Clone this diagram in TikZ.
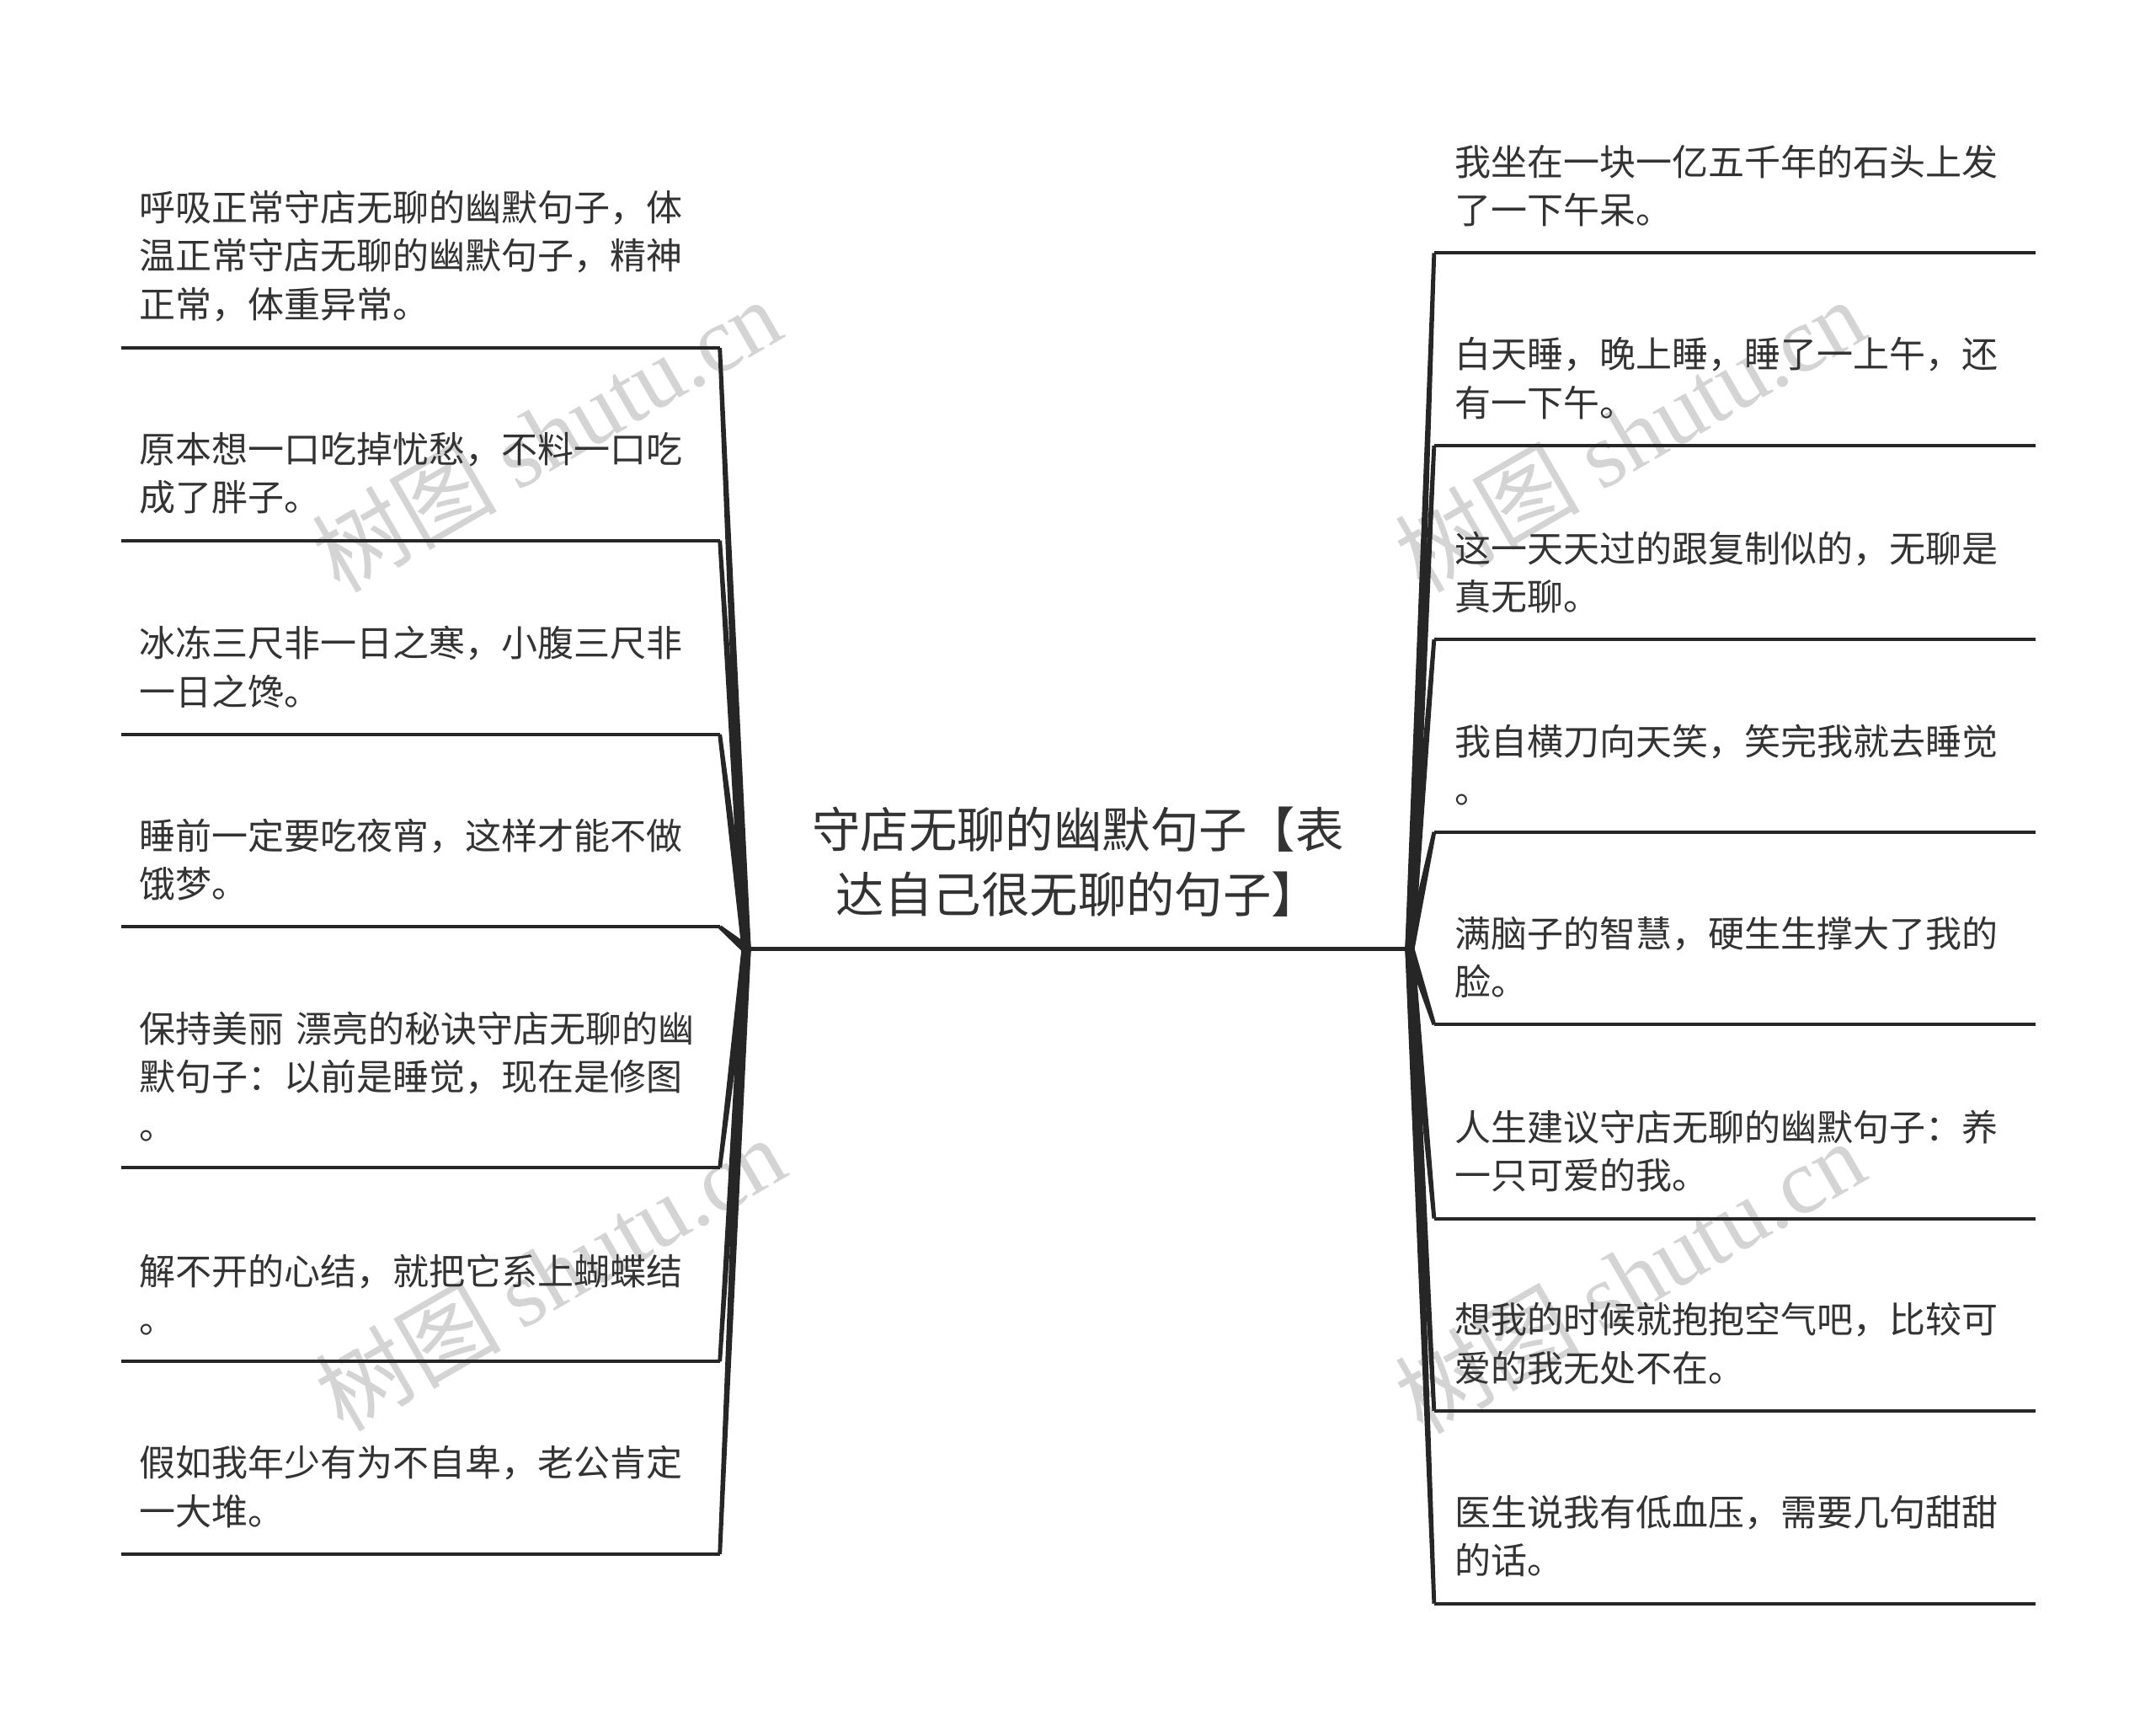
\documentclass[tikz,border=0pt]{standalone}
\usepackage{fontspec}
\setmainfont{Noto Sans CJK SC}
\newfontfamily\wmfont{Liberation Serif}
\usetikzlibrary{calc}
\definecolor{txt}{HTML}{333333}
\definecolor{ln}{HTML}{262626}
\definecolor{wm}{HTML}{D4D4D4}
\tikzset{
  leafL/.style={anchor=south west, text width=333.9pt, inner xsep=10.6pt, inner ysep=15.5pt,
    align=left, font=\fontsize{21.5pt}{28.6pt}\selectfont, text=txt},
  leafR/.style={anchor=south west, text width=332.2pt, inner xsep=12.2pt, inner ysep=15.5pt,
    align=left, font=\fontsize{21.5pt}{28.6pt}\selectfont, text=txt},
  rootbox/.style={anchor=south, text width=369.5pt, inner xsep=12pt, inner ysep=19pt,
    align=center, font=\fontsize{28.7pt}{38.4pt}\selectfont, text=txt},
  uline/.style={draw=ln, line width=2pt},
  wmark/.style={text=wm, font=\fontsize{55pt}{60pt}\selectfont, rotate=30},
}
\newcommand\taperlink[2]{\fill[ln] ($(#1)!2.8pt!90:(#2)$) -- ($(#2)!1.2pt!-90:(#1)$) -- ($(#2)!1.2pt!90:(#1)$) -- ($(#1)!2.8pt!-90:(#2)$) -- cycle;}
\begin{document}
\begin{tikzpicture}[x=0.8163pt,y=-0.8163pt]
\useasboundingbox[fill=white] (0,0) rectangle (1568,1255);
% watermarks, behind everything
\node[wmark] (w1) at (397,316) {树图 {\wmfont shutu.cn}};
\node[wmark] (w2) at (400,926) {树图 {\wmfont shutu.cn}};
\node[wmark] (w3) at (1185,316) {树图 {\wmfont shutu.cn}};
\node[wmark] (w4) at (1185,928) {树图 {\wmfont shutu.cn}};
% root
\node[rootbox] (root) at (784,690) {守店无聊的幽默句子【表\\达自己很无聊的句子】};
\draw[ln, line width=2.5pt] (root.south west) -- (root.south east);
% left leaves
\node[leafL] (l1) at (88,253) {呼吸正常守店无聊的幽默句子，体\\温正常守店无聊的幽默句子，精神\\正常，体重异常。};
\node[leafL] (l2) at (88,393) {原本想一口吃掉忧愁，不料一口吃\\成了胖子。};
\node[leafL] (l3) at (88,534) {冰冻三尺非一日之寒，小腹三尺非\\一日之馋。};
\node[leafL] (l4) at (88,674) {睡前一定要吃夜宵，这样才能不做\\饿梦。};
\node[leafL] (l5) at (88,849) {保持美丽~漂亮的秘诀守店无聊的幽\\默句子：以前是睡觉，现在是修图\\。};
\node[leafL] (l6) at (88,990) {解不开的心结，就把它系上蝴蝶结\\。};
\node[leafL] (l7) at (88,1130) {假如我年少有为不自卑，老公肯定\\一大堆。};
% right leaves
\node[leafR] (r1) at (1043,184) {我坐在一块一亿五千年的石头上发\\了一下午呆。};
\node[leafR] (r2) at (1043,324) {白天睡，晚上睡，睡了一上午，还\\有一下午。};
\node[leafR] (r3) at (1043,465) {这一天天过的跟复制似的，无聊是\\真无聊。};
\node[leafR] (r4) at (1043,605) {我自横刀向天笑，笑完我就去睡觉\\。};
\node[leafR] (r5) at (1043,745) {满脑子的智慧，硬生生撑大了我的\\脸。};
\node[leafR] (r6) at (1043,886) {人生建议守店无聊的幽默句子：养\\一只可爱的我。};
\node[leafR] (r7) at (1043,1026) {想我的时候就抱抱空气吧，比较可\\爱的我无处不在。};
\node[leafR] (r8) at (1043,1166) {医生说我有低血压，需要几句甜甜\\的话。};
% underlines
\foreach \n in {l1,l2,l3,l4,l5,l6,l7,r1,r2,r3,r4,r5,r6,r7,r8}{
  \draw[uline] (\n.south west) -- (\n.south east);
}
% connectors
\foreach \n in {l1,l2,l3,l4,l5,l6,l7}{
  \taperlink{root.south west}{\n.south east}
}
\foreach \n in {r1,r2,r3,r4,r5,r6,r7,r8}{
  \taperlink{root.south east}{\n.south west}
}
\end{tikzpicture}
\end{document}
